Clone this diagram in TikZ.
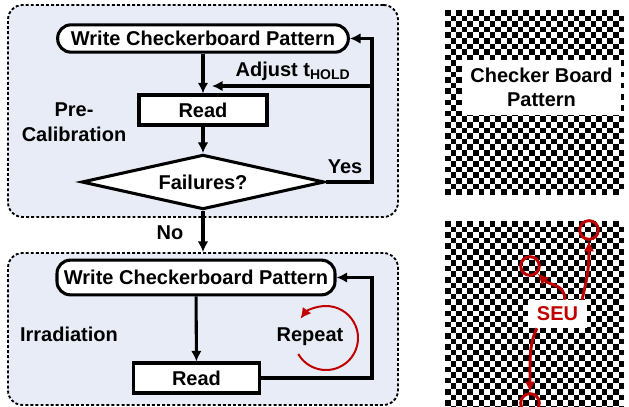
\documentclass[tikz,border=0pt]{standalone}
\usepackage{fontspec}
\setmainfont{Liberation Sans}
\usetikzlibrary{arrows.meta,shapes.geometric}
\definecolor{panelblue}{RGB}{231,236,246}
\definecolor{seured}{RGB}{192,0,0}
\begin{document}
\begin{tikzpicture}[x=0.75pt,y=-0.75pt,>={Latex[length=8pt,width=8pt]},
	font=\bfseries\fontsize{15}{18.5}\selectfont,
	panel/.style={draw, dash pattern=on 2.2pt off 1.6pt, line width=1.4pt,
		fill=panelblue, rounded corners=11pt, minimum width=292.5pt},
	box/.style={draw, line width=2.3pt, fill=white, inner sep=0pt},
	wpat/.style={box, rounded corners=10pt},
	flow/.style={line width=2.3pt, ->},
	seuline/.style={seured, line width=2.2pt},
	bit/.style={seuline, draw, circle, minimum size=14pt, inner sep=0pt}
]
	\useasboundingbox (0,0) rectangle (629,407);
	% panels
	\node[panel, minimum height=159pt] (precal) at (203,111) {};
	\node[panel, minimum height=114pt] (irrad) at (203,329) {};
	% pre-calibration
	\node[wpat, minimum width=218pt, minimum height=20.5pt] (wrA) at (203,38.5) {Write Checkerboard Pattern};
	\node[box, minimum width=96pt, minimum height=22.5pt] (rdA) at (203,110) {Read};
	\node[box, diamond, aspect=4.4, minimum width=182pt, minimum height=41pt] (fail) at (203,182) {Failures?};
	\coordinate (adjR) at (372,86);
	\coordinate (adjL) at (212,86);
	\draw[flow] (wrA) -- (rdA);
	\draw[flow] (rdA) -- (fail);
	\draw[flow] (fail.east) -| (adjR) |- (wrA.east);
	\draw[flow] (adjR) -- (adjL);
	\node (yes) at (345,167) {Yes};
	\node (adj) at (293,71) {Adjust t\textsubscript{HOLD}};
	\node[align=center] (precalLbl) at (74,122) {Pre-\\Calibration};
	\draw[flow] (fail) -- (irrad);
	\node (no) at (170,233) {No};
	% irradiation
	\node[wpat, minimum width=208.5pt, minimum height=26pt] (wrB) at (196,277.5) {Write Checkerboard Pattern};
	\node[box, minimum width=95pt, minimum height=22.5pt] (rdB) at (196.5,378) {Read};
	\coordinate (rptR) at (372,330);
	\draw[flow] (wrB) -- (rdB);
	\draw[flow] (rdB.east) -| (rptR) |- (wrB.east);
	\node (irrLbl) at (69,334) {Irradiation};
	\node (rep) at (310,337) {Repeat};
	\draw[seured, line width=1.5pt, ->] (326,338) ++(150:32) arc[start angle=150, end angle=-143, radius=32];
	% checker boards
	\begin{scope}
		\clip (445,10) rectangle (624.2,194.8);
		\foreach \i in {0,...,31}
			\foreach \j in {0,2,...,32}{
				\pgfmathtruncatemacro{\k}{\j+mod(\i,2)}
				\fill (445+5.6*\i,10+5.6*\k) rectangle ++(5.6,5.6);
			}
	\end{scope}
	\begin{scope}
		\clip (445,221) rectangle (624.2,407);
		\foreach \i in {0,...,31}
			\foreach \j in {0,2,...,34}{
				\pgfmathtruncatemacro{\k}{\j+mod(\i,2)}
				\fill (445+5.6*\i,221+5.6*\k) rectangle ++(5.6,5.6);
			}
	\end{scope}
	\node[fill=white, align=center, minimum width=119pt, minimum height=41pt, inner sep=0pt] (cbLbl) at (541.5,87.5) {Checker Board\\Pattern};
	\node[fill=white, text=seured, minimum width=44pt, minimum height=21pt, inner sep=0pt] (seuLbl) at (557.5,314) {SEU};
	\node[bit] (bitA) at (589,230) {};
	\node[bit] (bitB) at (530,266) {};
	\node[bit] (bitC) at (530,403) {};
	\draw[seuline, ->] ([xshift=5.5pt]seuLbl.north) .. controls +(0,-16) and +(12,12) .. (bitB.south east);
	\draw[seuline, ->] ([xshift=18.4pt]seuLbl.north) .. controls +(6,-25) and +(0,25) .. (bitA.south);
	\draw[seuline, ->] ([xshift=-15.4pt]seuLbl.south) .. controls +(-8,15) and +(0,-30) .. (bitC.north);
\end{tikzpicture}
\end{document}
